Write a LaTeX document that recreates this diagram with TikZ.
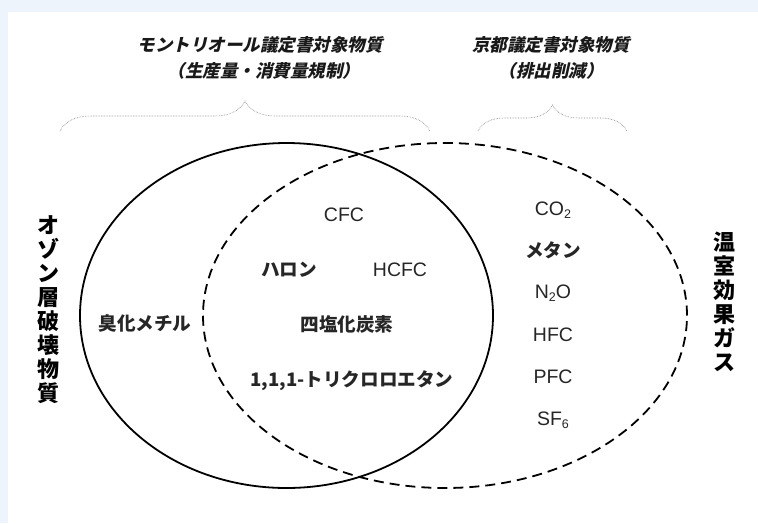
\documentclass[tikz,border=0pt]{standalone}
\usepackage{fontspec}
\setmainfont{Liberation Sans}
\newfontfamily\jp{Noto Sans CJK JP}
\newfontfamily\jpit[FakeSlant=0.22]{Noto Sans CJK JP}
\usetikzlibrary{decorations.pathreplacing,shapes.geometric}
\definecolor{bgblue}{HTML}{EEF4FB}
\newcommand{\sbs}[1]{\raisebox{-3.5pt}{\fontsize{12.5}{12.5}\selectfont #1}}
\begin{document}
\begin{tikzpicture}[x=1pt,y=-1pt,
  lab/.style={font=\fontsize{19.5}{19.5}\selectfont, text=black!85, inner sep=0pt},
  jlab/.style={font=\jp\bfseries\fontsize{18.6}{18.6}\selectfont, text=black!85, inner sep=0pt},
  ttl/.style={font=\jpit\bfseries\fontsize{17.5}{17.5}\selectfont, text=black!90, inner sep=0pt},
  vttl/.style={font=\jp\bfseries\fontsize{22}{24}\selectfont, align=center, inner sep=0pt},
  brc/.style={decorate, decoration={brace, amplitude=30pt, aspect=0.5}, gray, densely dotted, line width=0.6pt},
  venn/.style={ellipse, inner sep=0pt, line width=1.8pt, draw=black},
  ]
\useasboundingbox (0,0) rectangle (758,523);
\fill[bgblue] (0,0) rectangle (758,523);
\fill[white] (8,12) rectangle (758,523);

% ellipses
\node[venn, minimum width=413pt, minimum height=345pt] (ozone) at (286.5,315.5) {};
\node[venn, dash pattern=on 10pt off 6pt, minimum width=484pt, minimum height=345pt] (ghg) at (445,315.5) {};

% titles
\node[ttl] (t1) at (260,45) {モントリオール議定書対象物質};
\node[ttl] (s1) at (264,71) {（生産量・消費量規制）};
\node[ttl] (t2) at (551,45) {京都議定書対象物質};
\node[ttl] (s2) at (551,71) {（排出削減）};

% braces
\coordinate (b1a) at (60,131);
\coordinate (b1b) at (430,131);
\coordinate (b2a) at (478,131);
\coordinate (b2b) at (627,131);
\draw[brc] (b1a) -- (b1b);
\draw[brc, decoration={amplitude=26pt}] (b2a) -- (b2b);

% side titles
\node[vttl] (left) at (48,310) {オ\\ゾ\\ン\\層\\破\\壊\\物\\質};
\node[vttl] (right) at (724,302) {温\\室\\効\\果\\ガ\\ス};

% inner labels
\node[lab] (cfc) at (344,215) {CFC};
\node[jlab] (halon) at (289,270) {ハロン};
\node[lab] (hcfc) at (400,270) {HCFC};
\node[jlab] (mebr) at (145,323) {臭化メチル};
\node[jlab] (ccl4) at (347,324) {四塩化炭素};
\node[jlab] (tca) at (352,381) {1,1,1-トリクロロエタン};

% right column
\node[lab] (co2) at (553,210) {CO\sbs{2}};
\node[jlab] (ch4) at (553,250) {メタン};
\node[lab] (n2o) at (553,293) {N\sbs{2}O};
\node[lab] (hfc) at (553,335) {HFC};
\node[lab] (pfc) at (553,377) {PFC};
\node[lab] (sf6) at (553,420) {SF\sbs{6}};
\end{tikzpicture}
\end{document}
